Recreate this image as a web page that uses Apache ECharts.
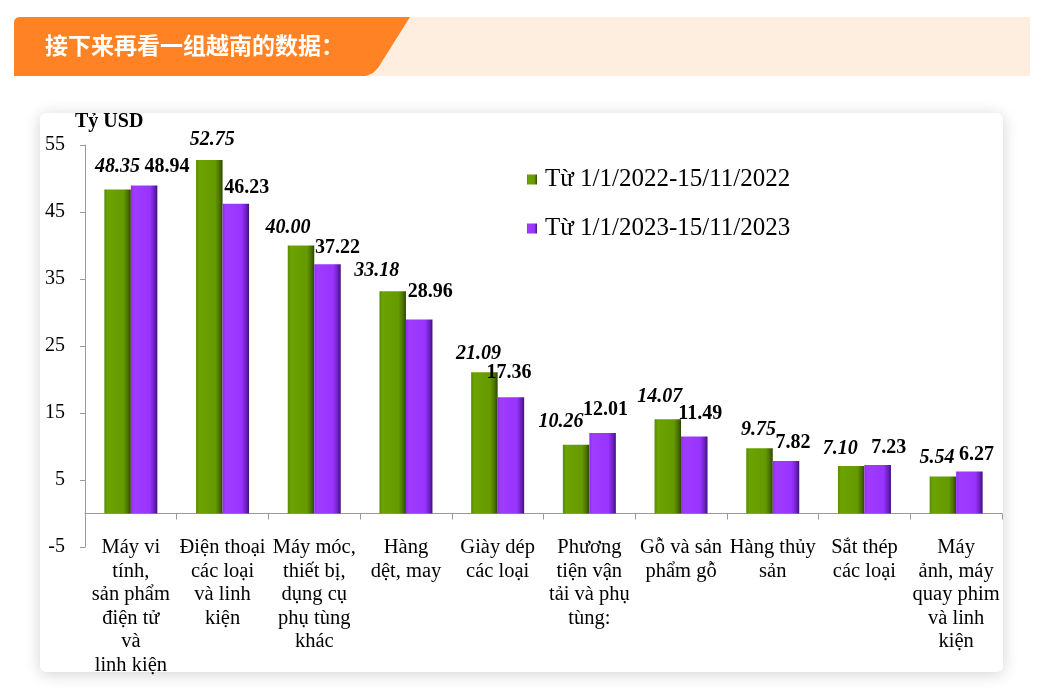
<!DOCTYPE html>
<html>
<head>
<meta charset="utf-8">
<script src="https://cdn.jsdelivr.net/npm/echarts@6/dist/echarts.min.js"></script>
<style>
html,body{margin:0;padding:0;background:#fff;}
#main{width:1042px;height:691px;}
</style>
</head>
<body>
<div id="main"></div>
<script>
// ---- data ----
var categories = [
  "Máy vi\ntính,\nsản phẩm\nđiện tử\nvà\nlinh kiện",
  "Điện thoại\ncác loại\nvà linh\nkiện",
  "Máy móc,\nthiết bị,\ndụng cụ\nphụ tùng\nkhác",
  "Hàng\ndệt, may",
  "Giày dép\ncác loại",
  "Phương\ntiện vận\ntải và phụ\ntùng:",
  "Gỗ và sản\nphẩm gỗ",
  "Hàng thủy\nsản",
  "Sắt thép\ncác loại",
  "Máy\nảnh, máy\nquay phim\nvà linh\nkiện"
];
var seriesNames = ["Từ 1/1/2022-15/11/2022", "Từ 1/1/2023-15/11/2023"];
var values2022 = [48.35, 52.75, 40.00, 33.18, 21.09, 10.26, 14.07, 9.75, 7.10, 5.54];
var values2023 = [48.94, 46.23, 37.22, 28.96, 17.36, 12.01, 11.49, 7.82, 7.23, 6.27];
var yTicks = { min: -5, max: 55, interval: 10 };
var unitLabel = "Tỷ USD";
var headerText = "接下来再看一组越南的数据：";

// label nudges (style only)
var labelShift2022 = [[0,-8],[3,-5],[-13,-3],[-16,-5],[-6,-3],[-15,-8],[-8,-7],[-1,-3],[-11,-2],[-6,-4]];
var labelShift2023 = [[23,-4],[11,-1],[10,-1],[11,-13],[-2,-9],[3,-8],[6,-8],[7,-3],[11,-2],[7,-2]];

var serif = "'Liberation Serif','Times New Roman',serif";

function grad(stops){
  return new echarts.graphic.LinearGradient(0,0,1,0, stops.map(function(s){return {offset:s[0], color:s[1]};}));
}
var greenFill = grad([[0,'#5a8a00'],[0.12,'#6ba300'],[0.72,'#669a00'],[0.88,'#4b7400'],[1,'#2c4500']]);
var purpleFill = grad([[0,'#8c2ef0'],[0.12,'#a03cff'],[0.72,'#9933ff'],[0.88,'#6e22c2'],[1,'#43107c']]);

function buildData(vals, shifts){
  return vals.map(function(v,i){
    return { value: v, label: { offset: shifts[i] } };
  });
}

var chart = echarts.init(document.getElementById('main'), null, {renderer:'canvas'});
var option = {
  backgroundColor: '#ffffff',
  animation: false,
  graphic: [
    { type:'rect', z:-20, shape:{x:360,y:17,width:670,height:59}, style:{fill:'#fdeedf'} },
    { type:'polygon', z:-19, shape:{points:[[14,21],[16,18],[19,17],[410,17],[378,68],[373,73],[366,76],[14,76]]}, style:{fill:'#ff8225'} },
    { type:'text', z:-18, left:45, top:34, style:{text:headerText, fill:'#ffffff', font:"bold 23px 'Noto Sans CJK SC', sans-serif"} },
    { type:'rect', z:-20, shape:{x:40,y:113,width:963,height:559,r:6}, style:{fill:'#ffffff', shadowBlur:16, shadowColor:'rgba(0,0,0,0.18)', shadowOffsetX:0, shadowOffsetY:2} }
  ],
  grid: { left:85, right:40, top:145, bottom:144, containLabel:false, outerBoundsMode:'none' },
  legend: {
    data: seriesNames,
    orient: 'vertical',
    left: 522,
    top: 162,
    itemGap: 24,
    itemWidth: 10,
    itemHeight: 10,
    icon: 'rect',
    textStyle: { fontFamily: serif, fontSize: 25, color:'#000', padding:[0,0,0,3] }
  },
  xAxis: {
    type:'category',
    data: categories,
    axisLine: { onZero:true, lineStyle:{ color:'#9a9a9a', width:1 } },
    axisTick: { show:true, interval:0, length:6, lineStyle:{ color:'#9a9a9a' } },
    axisLabel: { interval:0, fontFamily:serif, fontSize:20.5, lineHeight:23.5, color:'#000', margin:-11, align:'center' }
  },
  yAxis: {
    type:'value',
    min: yTicks.min, max: yTicks.max, interval: yTicks.interval,
    name: unitLabel,
    nameLocation: 'end',
    nameGap: 13,
    nameTextStyle: { fontFamily:serif, fontSize:20, fontWeight:'bold', color:'#000', align:'left', padding:[0,0,0,-10] },
    axisLine: { show:true, lineStyle:{ color:'#9a9a9a', width:1 } },
    axisTick: { show:true, length:5, lineStyle:{ color:'#9a9a9a' } },
    splitLine: { show:false },
    axisLabel: { fontFamily:serif, fontSize:20, color:'#000', margin:20 }
  },
  series: [
    {
      name: seriesNames[0], type:'bar', barWidth:26.5, barGap:'0%',
      itemStyle: { color: greenFill },
      label: { show:true, position:'top', distance:5, fontFamily:serif, fontSize:20, fontWeight:'bold', fontStyle:'italic', color:'#000',
               formatter:function(p){ return p.value.toFixed(2); } },
      data: buildData(values2022, labelShift2022)
    },
    {
      name: seriesNames[1], type:'bar', barWidth:26.5, barGap:'0%',
      itemStyle: { color: purpleFill },
      label: { show:true, position:'top', distance:5, fontFamily:serif, fontSize:20, fontWeight:'bold', color:'#000',
               formatter:function(p){ return p.value.toFixed(2); } },
      data: buildData(values2023, labelShift2023)
    }
  ]
};
chart.setOption(option);
</script>
</body>
</html>
